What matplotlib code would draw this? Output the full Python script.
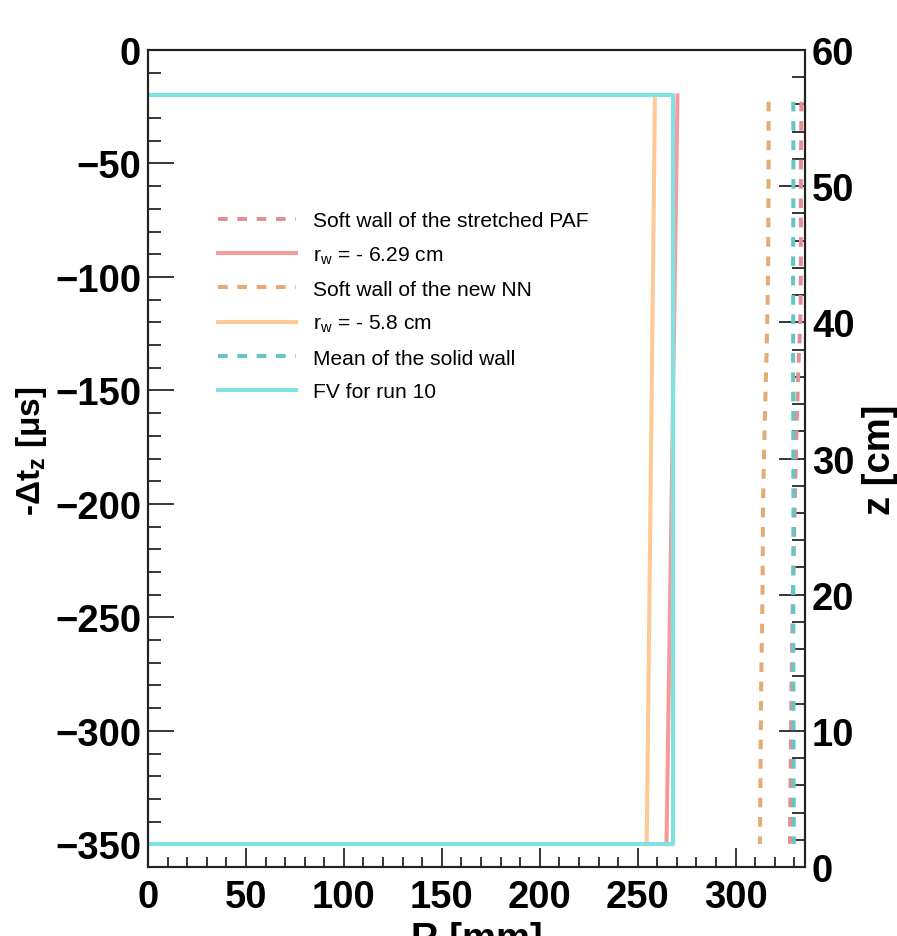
import matplotlib
matplotlib.use("Agg")
import matplotlib.pyplot as plt
from matplotlib.ticker import MultipleLocator

plt.rcParams['font.family'] = ['Liberation Sans', 'DejaVu Sans']
plt.rcParams['mathtext.fontset'] = 'custom'
plt.rcParams['mathtext.rm'] = 'Liberation Sans'
plt.rcParams['mathtext.bf'] = 'Liberation Sans:bold'
plt.rcParams['mathtext.default'] = 'regular'

# FV for run 10 (R [mm], -dt [us])
fv_r = [0, 268, 268, 0]
fv_t = [-20, -20, -350, -350]
# r_w = -6.29 cm
paf_r = [270.3, 264.7]
paf_t = [-20, -350]
# r_w = -5.8 cm
nn_r = [258.8, 254.6]
nn_t = [-20, -350]

# soft / solid walls, right axis (z [cm])
wall_z = [56.2, 51.0, 43.9, 40.0, 37.8, 32.4, 26.8, 19.9, 13.1, 1.7]
soft_paf_r = [333.6, 333.3, 333.3, 333.0, 332.3, 331.1, 330.2, 329.2, 328.5, 327.7]
soft_nn_r = [316.8, 316.8, 316.6, 316.1, 315.8, 314.8, 314.0, 313.7, 313.0, 312.4]
solid_r = [329.4, 329.5, 329.3, 329.4, 329.3, 329.4, 329.5, 329.4, 329.5, 329.7]

c_paf_d, c_paf = '#e09196', '#f99a9a'
c_nn_d, c_nn = '#e4ab75', '#ffc896'
c_sol_d, c_sol = '#66c6c6', '#7fe3e3'

fig = plt.figure(figsize=(8.97, 9.37), dpi=100)
ax = fig.add_axes([148/897, 69/937, 657/897, 817/937])
ax2 = ax.twinx()

lw = 2.9
ds = (2.4, 2.4)
l1, = ax2.plot(soft_paf_r, wall_z, color=c_paf_d, lw=lw, dashes=ds)
l2, = ax.plot(paf_r, paf_t, color=c_paf, lw=lw)
l3, = ax2.plot(soft_nn_r, wall_z, color=c_nn_d, lw=lw, dashes=ds)
l4, = ax.plot(nn_r, nn_t, color=c_nn, lw=lw)
l5, = ax2.plot(solid_r, wall_z, color=c_sol_d, lw=lw, dashes=ds)
l6, = ax.plot(fv_r, fv_t, color=c_sol, lw=lw)

ax.set_xlim(0, 335.4)
ax.set_ylim(-360, 0)
ax2.set_ylim(0, 60)

ax.xaxis.set_major_locator(MultipleLocator(50))
ax.xaxis.set_minor_locator(MultipleLocator(10))
ax.yaxis.set_major_locator(MultipleLocator(50))
ax.yaxis.set_minor_locator(MultipleLocator(10))
ax2.yaxis.set_major_locator(MultipleLocator(10))
ax2.yaxis.set_minor_locator(MultipleLocator(2))

fs = 27.5
ax.tick_params(axis='x', which='major', direction='in', length=14, width=1.1,
               labelsize=fs, pad=9, top=False)
ax.tick_params(axis='x', which='minor', direction='in', length=7, width=1.1, top=False)
ax.tick_params(axis='y', which='major', direction='in', length=19, width=1.1,
               labelsize=fs, pad=5, right=False)
ax.tick_params(axis='y', which='minor', direction='in', length=9.5, width=1.1, right=False)
ax2.tick_params(axis='y', which='major', direction='in', length=19, width=1.1,
                labelsize=fs, pad=5)
ax2.tick_params(axis='y', which='minor', direction='in', length=9.5, width=1.1)
for a in (ax, ax2):
    for lab in a.get_xticklabels() + a.get_yticklabels():
        lab.set_fontweight('bold')
    for s in a.spines.values():
        s.set_linewidth(1.5)
        s.set_color('#222222')

ax.set_ylabel(r'-$\Delta$t$_{\mathbf{z}}$ [$\mu$s]', fontsize=24, fontweight='bold')
ax.yaxis.set_label_coords(-0.151, 0.51)
ax2.set_ylabel('z [cm]', fontsize=fs, fontweight='bold')
ax2.yaxis.set_label_coords(1.0868, 0.5)
ax.set_xlabel('R [mm]', fontsize=fs, fontweight='bold')
ax.xaxis.set_label_coords(0.5, -0.066)

labels = ['Soft wall of the stretched PAF', r'r$_{w}$ = - 6.29 cm',
          'Soft wall of the new NN', r'r$_{w}$ = - 5.8 cm',
          'Mean of the solid wall', 'FV for run 10']
fig.legend([l1, l2, l3, l4, l5, l6], labels, loc='upper left',
           bbox_to_anchor=(218/897, 1 - 212/937), frameon=False,
           fontsize=15.1, handlelength=3.7, handletextpad=0.85,
           labelspacing=0.68, borderpad=0, borderaxespad=0)

fig.savefig('out.png', dpi=100)
